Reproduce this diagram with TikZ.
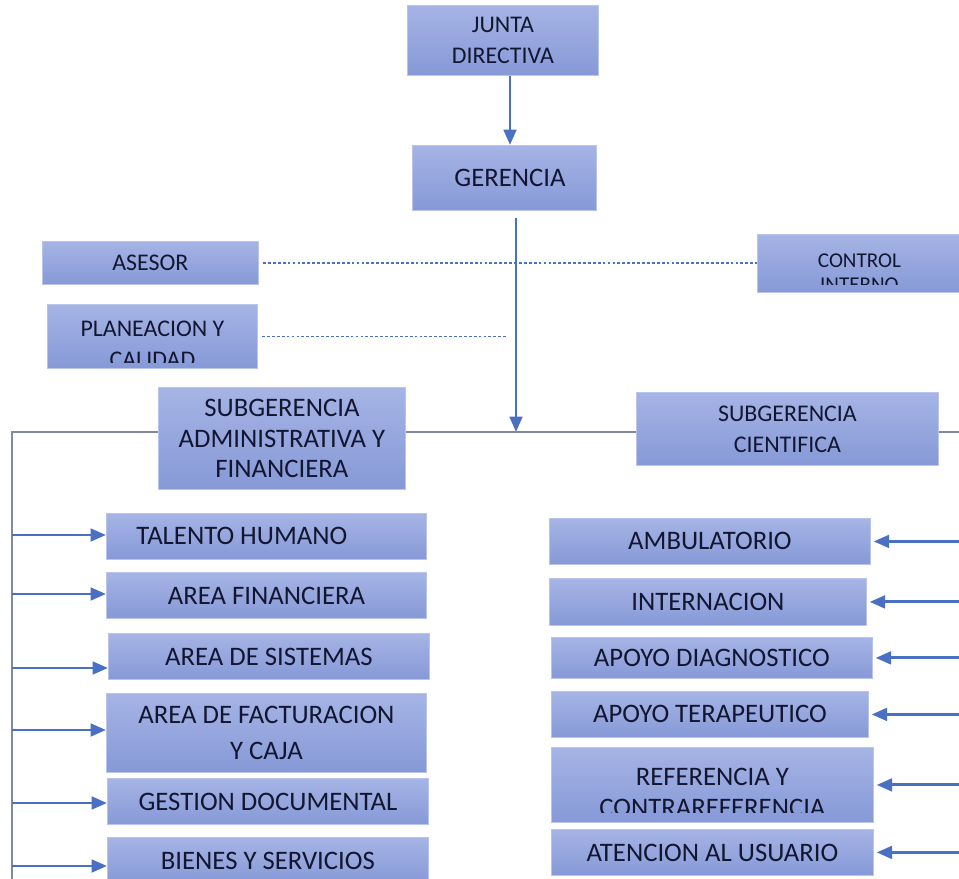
\documentclass[tikz,border=0pt]{standalone}
\usepackage{fontspec}
\setmainfont{Carlito}
\usetikzlibrary{arrows.meta,calc}
\definecolor{cajaarriba}{HTML}{A6B4E5}
\definecolor{cajaabajo}{HTML}{8699D7}
\definecolor{cajaborde}{HTML}{B9C5EC}
\definecolor{cajatexto}{HTML}{121630}
\definecolor{azul}{HTML}{4A70C4}
\definecolor{gris}{HTML}{7F8AA0}
\newcommand{\pxu}{0.025cm}
\tikzset{
	caja/.style={anchor=north west, rectangle, draw=cajaborde, line width=0.6pt, top color=cajaarriba, bottom color=cajaabajo, text=cajatexto, align=center, inner sep=0pt, font=\fontsize{19}{22}\selectfont},
	chica/.style={font=\fontsize{17}{22}\selectfont},
	mini/.style={font=\fontsize{15}{17}\selectfont},
	textocaja/.style={text=cajatexto, align=center, inner sep=0pt, font=\fontsize{19}{22}\selectfont},
	flecha/.style={draw=azul, line width=2.1pt, -{Triangle[length=11pt,width=9pt]}},
	bus/.style={draw=gris, line width=1pt},
	punteada/.style={draw=azul, line width=1.1pt, dash pattern=on 2pt off 1.5pt}
}
\begin{document}
\begin{tikzpicture}[x=\pxu, y=-\pxu]
	\useasboundingbox (0,0) rectangle (959,879);
	\clip (0,0) rectangle (959,879);
	% direccion
	\node[caja, chica, minimum width=191*\pxu, minimum height=70*\pxu] (junta) at (407,5) {JUNTA\\DIRECTIVA};
	\node[caja, minimum width=184*\pxu, minimum height=65*\pxu] (gerencia) at (412,145) {\hspace*{8pt}GERENCIA};
	\node[caja, chica, minimum width=216*\pxu, minimum height=43*\pxu] (asesor) at (42,241) {ASESOR};
	\node[caja, minimum width=210*\pxu, minimum height=64*\pxu] (plan) at (47,304) {};
	\begin{scope}
		\clip ([yshift=4.3pt]plan.south west) rectangle (plan.north east);
		\node[textocaja, chica] (plan-t) at ([yshift=-5.3pt]plan.center) {PLANEACION Y\\CALIDAD};
	\end{scope}
	\node[caja, minimum width=204*\pxu, minimum height=58*\pxu] (control) at (757,234) {};
	\begin{scope}
		\clip ([yshift=5.7pt]control.south west) rectangle (control.north east);
		\node[textocaja, mini] (control-t) at ([yshift=-6.4pt]control.center) {CONTROL\\INTERNO};
	\end{scope}
	\node[caja, minimum width=247*\pxu, minimum height=102*\pxu] (admin) at (158,387) {SUBGERENCIA\\ADMINISTRATIVA Y\\FINANCIERA};
	\node[caja, chica, minimum width=302*\pxu, minimum height=73*\pxu] (cient) at (636,392) {SUBGERENCIA\\CIENTIFICA};
	% subgerencia administrativa
	\node[caja, minimum width=320*\pxu, minimum height=46*\pxu] (talento) at (106,513) {TALENTO HUMANO\hspace*{35pt}};
	\node[caja, minimum width=320*\pxu, minimum height=46*\pxu] (financiera) at (106,572) {AREA FINANCIERA};
	\node[caja, minimum width=321*\pxu, minimum height=46*\pxu] (sistemas) at (108,633) {AREA DE SISTEMAS};
	\node[caja, minimum width=320*\pxu, minimum height=79*\pxu] (factura) at (106,693) {AREA DE FACTURACION\\[4pt]Y CAJA};
	\node[caja, minimum width=321*\pxu, minimum height=46*\pxu] (gestion) at (107,778) {GESTION DOCUMENTAL};
	\node[caja, minimum width=321*\pxu, minimum height=46*\pxu] (bienes) at (107,837) {BIENES Y SERVICIOS};
	% subgerencia cientifica
	\node[caja, minimum width=321*\pxu, minimum height=46*\pxu] (amb) at (549,518) {AMBULATORIO};
	\node[caja, minimum width=317*\pxu, minimum height=47*\pxu] (intern) at (549,578) {INTERNACION};
	\node[caja, minimum width=321*\pxu, minimum height=41*\pxu] (diag) at (551,637) {APOYO DIAGNOSTICO};
	\node[caja, minimum width=317*\pxu, minimum height=46*\pxu] (terap) at (551,691) {APOYO TERAPEUTICO};
	\node[caja, minimum width=322*\pxu, minimum height=75*\pxu] (refer) at (551,747) {};
	\begin{scope}
		\clip ([yshift=7.1pt]refer.south west) rectangle (refer.north east);
		\node[textocaja] (refer-t) at ([yshift=-5pt]refer.center) {REFERENCIA Y\\CONTRAREFERENCIA};
	\end{scope}
	\node[caja, minimum width=322*\pxu, minimum height=46*\pxu] (atenc) at (551,829) {ATENCION AL USUARIO};
	% conectores
	\coordinate (eje) at (510,0);
	\coordinate (cruce) at (516,432);
	\coordinate (izq) at (12,885);
	\coordinate (der) at (965,432);
	\draw[flecha] (junta.south -| eje) -- (gerencia.north -| eje);
	\draw[flecha, shorten <=5pt] (gerencia.south -| cruce) -- (cruce);
	\draw[punteada, shorten <=3pt] (asesor.east) -- (asesor.east -| control.west);
	\draw[punteada, shorten <=3pt, shorten >=6pt] (plan.east) -- (plan.east -| cruce);
	\draw[bus] (izq) -- (izq |- cruce) -- (admin.west |- cruce);
	\draw[bus] (admin.east |- cruce) -- (cient.west |- cruce);
	\draw[bus] (cient.east |- cruce) -- (der);
	\coordinate (l1) at (12,535);
	\coordinate (l2) at (12,594);
	\coordinate (l3) at (12,668);
	\coordinate (l4) at (12,730);
	\coordinate (l5) at (12,803);
	\coordinate (l6) at (12,866);
	\draw[flecha] (l1) -- (l1 -| talento.west);
	\draw[flecha] (l2) -- (l2 -| financiera.west);
	\draw[flecha] (l3) -- (l3 -| sistemas.west);
	\draw[flecha] (l4) -- (l4 -| factura.west);
	\draw[flecha] (l5) -- (l5 -| gestion.west);
	\draw[flecha] (l6) -- (l6 -| bienes.west);
	\coordinate (r1) at (amb.east -| der);
	\coordinate (r2) at (intern.east -| der);
	\coordinate (r3) at (diag.east -| der);
	\coordinate (r4) at (terap.east -| der);
	\coordinate (r5) at (refer.east -| der);
	\coordinate (r6) at (atenc.east -| der);
	\draw[flecha, shorten >=2pt] (r1) -- (amb.east);
	\draw[flecha, shorten >=2pt] (r2) -- (intern.east);
	\draw[flecha, shorten >=2pt] (r3) -- (diag.east);
	\draw[flecha, shorten >=2pt] (r4) -- (terap.east);
	\draw[flecha, shorten >=2pt] (r5) -- (refer.east);
	\draw[flecha, shorten >=2pt] (r6) -- (atenc.east);
\end{tikzpicture}
\end{document}
